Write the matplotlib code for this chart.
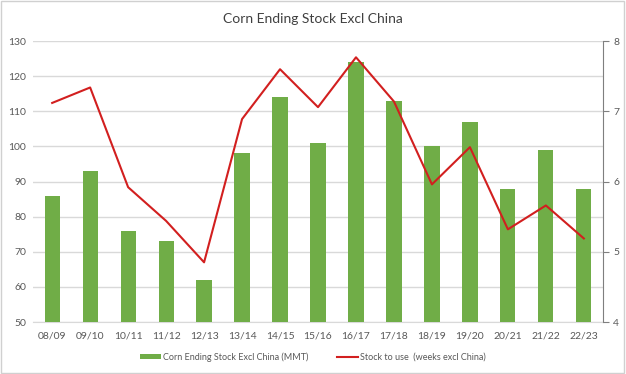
import matplotlib
matplotlib.use("Agg")
import matplotlib.pyplot as plt
from matplotlib.patches import Rectangle

plt.rcParams['font.family'] = ['Lato', 'DejaVu Sans']

seasons = ["08/09", "09/10", "10/11", "11/12", "12/13", "13/14", "14/15", "15/16",
           "16/17", "17/18", "18/19", "19/20", "20/21", "21/22", "22/23"]
ending_stock = [86, 93, 76, 73, 62, 98, 114, 101, 124, 113, 100, 107, 88, 99, 88]
stock_to_use = [7.12, 7.34, 5.92, 5.44, 4.85, 6.89, 7.60, 7.06, 7.77, 7.14, 5.96, 6.49, 5.32, 5.66, 5.19]

bar_color = "#70AD47"
line_color = "#D21F1F"
text_color = "#595959"
grid_color = "#D9D9D9"

fig = plt.figure(figsize=(6.26, 3.74), dpi=100)
fig.patches.append(Rectangle((0.002, 0.003), 0.995, 0.993, transform=fig.transFigure,
                             fill=False, edgecolor="#D0D0D0", linewidth=1))
ax = fig.add_axes([0.053, 0.139, 0.910, 0.751])
x = list(range(len(seasons)))
ax.bar(x, ending_stock, width=0.4, color=bar_color, label="Corn Ending Stock Excl China (MMT)", zorder=3)
ax.set_ylim(50, 130)
ax.set_yticks(range(50, 131, 10))
ax.set_xlim(-0.5, len(seasons) - 0.5)
ax.set_xticks(x)
ax.set_xticklabels(seasons)
ax.grid(axis='y', color=grid_color, linewidth=1, zorder=0)
for s in ['top', 'right', 'left']:
    ax.spines[s].set_visible(False)
ax.spines['bottom'].set_color(grid_color)
ax.tick_params(axis='y', length=0, labelsize=7.5, colors=text_color, pad=5)
ax.tick_params(axis='x', length=0, labelsize=7.5, colors=text_color, pad=7)

ax2 = ax.twinx()
ax2.plot(x, stock_to_use, color=line_color, linewidth=1.5, label="Stock to use  (weeks excl China)", zorder=4)
ax2.set_ylim(4, 8)
ax2.set_yticks([4, 5, 6, 7, 8])
for s in ['top', 'left', 'bottom']:
    ax2.spines[s].set_visible(False)
ax2.spines['right'].set_color("#7F7F7F")
ax2.tick_params(axis='y', length=4, direction='out', labelsize=7.5, colors=text_color, color="#7F7F7F")

fig.text(0.5, 0.949, "Corn Ending Stock Excl China", ha='center', va='center', fontsize=10, color="#404040")

h1, l1 = ax.get_legend_handles_labels()
h2, l2 = ax2.get_legend_handles_labels()
fig.legend(h1 + h2, l1 + l2, loc='center', bbox_to_anchor=(0.5, 0.046), ncol=2, frameon=False,
           fontsize=6.5, labelcolor=text_color, handlelength=2.3, handleheight=0.5,
           columnspacing=3.2, handletextpad=0.25)

fig.savefig("out.png", dpi=100)
